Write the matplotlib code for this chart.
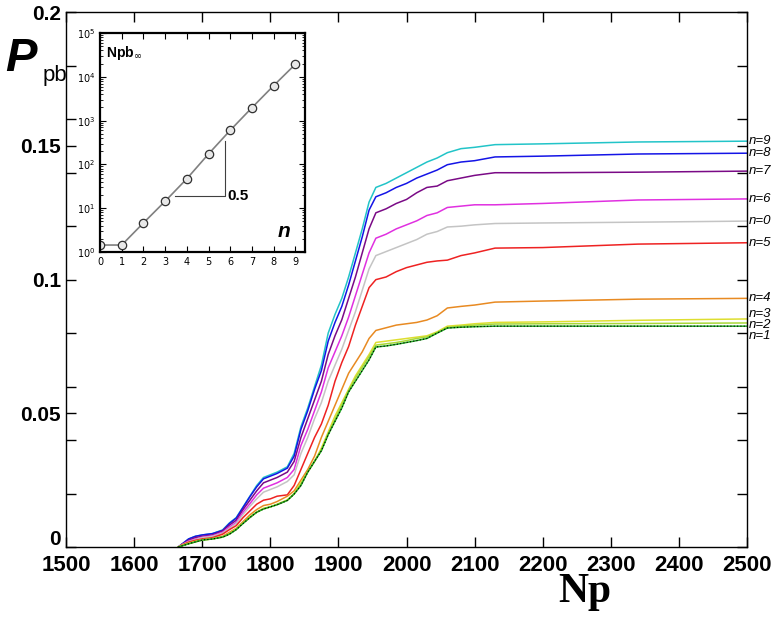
import matplotlib
matplotlib.use("Agg")
import matplotlib.pyplot as plt
from matplotlib.ticker import FixedLocator, NullFormatter, LogLocator
from matplotlib.transforms import ScaledTranslation

# -----------------------
# data
# -----------------------
np_grid = [1665, 1670, 1680, 1690, 1700, 1715, 1730, 1740, 1750, 1760, 1770, 1780,
           1790, 1800, 1810, 1825, 1835, 1845, 1855, 1865, 1875, 1885, 1895, 1905,
           1915, 1925, 1935, 1945, 1955, 1970, 1985, 2000, 2015, 2030, 2045, 2060,
           2080, 2100, 2130, 2200, 2340, 2500]

p_n9 = [0, 0.001, 0.003, 0.004, 0.0045, 0.005, 0.0064, 0.009, 0.011, 0.015, 0.019, 0.023,
        0.026, 0.027, 0.028, 0.030, 0.035, 0.045, 0.052, 0.060, 0.068, 0.080, 0.087, 0.093,
        0.101, 0.110, 0.119, 0.129, 0.1345, 0.136, 0.138, 0.140, 0.142, 0.144, 0.1455, 0.1475,
        0.149, 0.1495, 0.1505, 0.1508, 0.1515, 0.1518]
p_n8 = [0, 0.001, 0.003, 0.004, 0.0045, 0.005, 0.0062, 0.0088, 0.0108, 0.0148, 0.0188, 0.0225,
        0.0255, 0.0265, 0.0275, 0.0295, 0.034, 0.044, 0.051, 0.059, 0.066, 0.077, 0.084, 0.090,
        0.098, 0.107, 0.116, 0.126, 0.131, 0.1325, 0.1345, 0.136, 0.138, 0.1395, 0.141, 0.143,
        0.144, 0.1445, 0.1459, 0.1462, 0.147, 0.1473]
p_n7 = [0, 0.001, 0.0025, 0.0035, 0.004, 0.0045, 0.006, 0.0082, 0.010, 0.014, 0.0175, 0.021,
        0.024, 0.025, 0.026, 0.028, 0.032, 0.041, 0.048, 0.055, 0.062, 0.072, 0.079, 0.085,
        0.093, 0.101, 0.110, 0.119, 0.125, 0.1265, 0.1285, 0.130, 0.1325, 0.1345, 0.135, 0.137,
        0.138, 0.139, 0.140, 0.140, 0.1402, 0.1406]
p_n6 = [0, 0.0008, 0.0022, 0.003, 0.0037, 0.0042, 0.0055, 0.0075, 0.0092, 0.013, 0.0162, 0.0195,
        0.022, 0.023, 0.024, 0.026, 0.029, 0.038, 0.044, 0.051, 0.058, 0.067, 0.073, 0.079,
        0.086, 0.094, 0.102, 0.110, 0.1155, 0.117, 0.119, 0.1205, 0.122, 0.124, 0.125, 0.127,
        0.1275, 0.128, 0.128, 0.1285, 0.1298, 0.1302]
p_n0 = [0, 0.0008, 0.002, 0.0028, 0.0035, 0.004, 0.0052, 0.007, 0.0088, 0.0122, 0.0152, 0.018,
        0.0205, 0.0215, 0.0225, 0.0245, 0.027, 0.035, 0.041, 0.048, 0.054, 0.062, 0.068, 0.074,
        0.081, 0.088, 0.096, 0.104, 0.109, 0.1105, 0.112, 0.1135, 0.115, 0.117, 0.118, 0.1197,
        0.120, 0.1205, 0.121, 0.1212, 0.1215, 0.1219]
p_n5 = [0, 0.0007, 0.0018, 0.0025, 0.003, 0.0035, 0.0048, 0.0065, 0.008, 0.011, 0.0135, 0.016,
        0.0175, 0.018, 0.019, 0.0195, 0.023, 0.029, 0.035, 0.041, 0.046, 0.053, 0.062, 0.069,
        0.075, 0.083, 0.090, 0.097, 0.100, 0.101, 0.103, 0.1045, 0.1055, 0.1065, 0.107, 0.1073,
        0.109, 0.110, 0.1118, 0.112, 0.1133, 0.1138]
p_n4 = [0, 0.0006, 0.0015, 0.0022, 0.0028, 0.0032, 0.004, 0.0055, 0.007, 0.0095, 0.012, 0.014,
        0.0155, 0.016, 0.017, 0.019, 0.021, 0.025, 0.029, 0.034, 0.041, 0.047, 0.053, 0.059,
        0.065, 0.069, 0.073, 0.078, 0.081, 0.082, 0.083, 0.0835, 0.084, 0.0849, 0.0865, 0.0894,
        0.090, 0.0905, 0.0916, 0.092, 0.0927, 0.093]
p_n3 = [0, 0.0005, 0.0013, 0.002, 0.0026, 0.003, 0.0038, 0.005, 0.0068, 0.009, 0.0112, 0.013,
        0.0145, 0.015, 0.016, 0.0176, 0.020, 0.024, 0.028, 0.032, 0.037, 0.043, 0.049, 0.054,
        0.059, 0.064, 0.068, 0.072, 0.0765, 0.077, 0.0775, 0.078, 0.0785, 0.079, 0.0805, 0.0826,
        0.083, 0.0835, 0.084, 0.0842, 0.0848, 0.0853]
p_n2 = [0, 0.0004, 0.0012, 0.0019, 0.0026, 0.003, 0.0037, 0.0049, 0.0066, 0.0089, 0.0111, 0.013,
        0.0143, 0.015, 0.0159, 0.0175, 0.0199, 0.0235, 0.0282, 0.0322, 0.0362, 0.0422, 0.0478, 0.0532,
        0.0585, 0.0632, 0.0672, 0.0712, 0.0755, 0.076, 0.0765, 0.0772, 0.078, 0.0786, 0.0802, 0.0822,
        0.0826, 0.083, 0.0834, 0.0835, 0.0836, 0.0838]
p_n1 = [0, 0.0004, 0.0012, 0.0019, 0.0026, 0.003, 0.0037, 0.0048, 0.0065, 0.0088, 0.011, 0.013,
        0.0142, 0.015, 0.0158, 0.0174, 0.0198, 0.023, 0.028, 0.032, 0.036, 0.042, 0.047, 0.052,
        0.058, 0.062, 0.066, 0.070, 0.0748, 0.0752, 0.0758, 0.0765, 0.0772, 0.078, 0.080, 0.0819,
        0.0822, 0.0824, 0.0826, 0.0826, 0.0826, 0.0826]

series = [p_n9, p_n8, p_n7, p_n6, p_n0, p_n5, p_n4, p_n3, p_n2, p_n1]
series_names = ["n=9", "n=8", "n=7", "n=6", "n=0", "n=5", "n=4", "n=3", "n=2", "n=1"]
series_colors = ["#22c4c8", "#1414e6", "#7a0a86", "#e030e0", "#c4c4c4", "#ee2222",
                 "#e88a22", "#dede30", "#a8d838", "#22a822"]

# inset: Npb_inf vs n
n_vals = [0, 1, 2, 3, 4, 5, 6, 7, 8, 9]
npb_inf = [1.44, 1.44, 4.6, 14.4, 47, 173, 600, 1970, 6280, 19300]

# -----------------------
# figure
# -----------------------
fig = plt.figure(figsize=(7.84, 6.22), dpi=100)
ax = fig.add_axes([0.0842, 0.1206, 0.8686, 0.8596])

for vals, col in zip(series, series_colors):
    ax.plot(np_grid, vals, color=col, lw=1.1)
# dotted black overlay on the n=1 curve
ax.plot(np_grid, p_n1, color="black", lw=0.8, ls=(0, (1, 2)))

ax.set_xlim(1500, 2500)
ax.set_ylim(0, 0.2)
ax.set_xticks(range(1500, 2501, 100))
ax.set_yticks([0, 0.05, 0.1, 0.15, 0.2])
ax.set_yticklabels(["0", "0.05", "0.1", "0.15", "0.2"])
ax.yaxis.set_minor_locator(FixedLocator([0.02, 0.04, 0.06, 0.08, 0.12, 0.14, 0.16, 0.18]))
ax.tick_params(which="both", direction="in", top=True, right=True, width=1, length=7)
ax.tick_params(axis="x", pad=6)
for lab in ax.get_xticklabels():
    lab.set_fontfamily(["Liberation Sans Narrow", "Liberation Sans"])
    lab.set_fontweight("bold")
    lab.set_fontsize(16)
for lab in ax.get_yticklabels():
    lab.set_fontfamily(["Liberation Sans", "DejaVu Sans"])
    lab.set_fontweight("bold")
    lab.set_fontsize(15)
# the "0" label sits a little above the axis line
zero_lab = ax.get_yticklabels()[0]
zero_lab.set_transform(zero_lab.get_transform() + ScaledTranslation(0, 7 / 72, fig.dpi_scale_trans))
for sp in ax.spines.values():
    sp.set_linewidth(1.0)

# end labels
label_offsets = [0.0, 0.0, 0.0, 0.0, 0.0, 0.0, 0.0, 0.002, -0.0008, -0.0038]
for vals, name, off in zip(series, series_names, label_offsets):
    ax.text(2503, vals[-1] + off, name, fontsize=9.5, style="italic",
            family=["Liberation Sans", "DejaVu Sans"], va="center", ha="left",
            clip_on=False)

# axis titles
fig.text(0.746, 0.048, "Np", fontsize=30, fontweight="bold",
         family=["Liberation Serif", "DejaVu Serif"], ha="center", va="center")
fig.text(0.006, 0.905, "P", fontsize=34, fontweight="bold", style="italic",
         family=["Liberation Sans", "DejaVu Sans"], ha="left", va="center")
fig.text(0.054, 0.878, "pb", fontsize=16,
         family=["Liberation Sans", "DejaVu Sans"], ha="left", va="center")

# -----------------------
# inset
# -----------------------
axi = fig.add_axes([0.1276, 0.5949, 0.2615, 0.352])
axi.semilogy(n_vals, npb_inf, color="#808080", lw=1.2, marker="o", ms=6,
             mfc="#e8e8e8", mec="#303030", mew=0.9)
axi.set_xlim(0, 9.45)
axi.set_ylim(1, 1e5)
axi.set_xticks(n_vals)
axi.yaxis.set_major_locator(LogLocator(base=10, numticks=10))
axi.yaxis.set_minor_locator(LogLocator(base=10, subs=range(2, 10), numticks=10))
axi.yaxis.set_minor_formatter(NullFormatter())
axi.tick_params(which="both", direction="in", top=True, right=True, labelsize=7)
axi.tick_params(which="major", length=4)
axi.tick_params(which="minor", length=2)
for sp in axi.spines.values():
    sp.set_linewidth(1.6)

# slope triangle
axi.plot([3.46, 5.77, 5.77], [18.6, 18.6, 336], color="#404040", lw=0.8)
axi.text(5.85, 18.6, "0.5", fontsize=11, fontweight="bold", va="center", ha="left",
         family=["Liberation Sans", "DejaVu Sans"])
axi.text(0.03, 0.95, r"Npb$_{\infty}$", transform=axi.transAxes, fontsize=10,
         fontweight="bold", va="top", ha="left", family=["Liberation Sans", "DejaVu Sans"])
axi.text(0.93, 0.05, "n", transform=axi.transAxes, fontsize=15, fontweight="bold",
         style="italic", va="bottom", ha="right", family=["Liberation Sans", "DejaVu Sans"])

fig.savefig("out.png", dpi=100)
plt.close(fig)
